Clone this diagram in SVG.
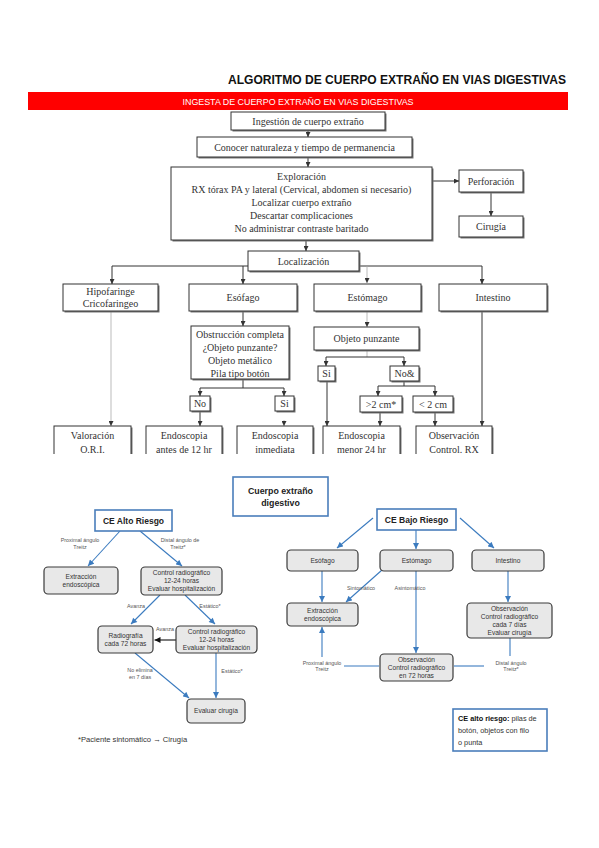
<svg xmlns="http://www.w3.org/2000/svg" width="599" height="848" viewBox="0 0 599 848">
<defs>
<style>
.bx{fill:#fff;stroke:#333;stroke-width:1}
.sh{fill:#777}
.st{font-family:"Liberation Serif",serif;font-size:10px;fill:#333;text-anchor:middle}
.ln{stroke:#333;stroke-width:1;fill:none}
.lg{stroke:#aaa;stroke-width:0.8;fill:none}
.gb{fill:#e8e8e8;stroke:#3a3a3a;stroke-width:1.2}
.wb{fill:#fff;stroke:#4a7ebb;stroke-width:1.6}
.bt{font-family:"Liberation Sans",sans-serif;font-size:6.6px;fill:#333;text-anchor:middle}
.lb{font-family:"Liberation Sans",sans-serif;font-size:5.4px;fill:#555;text-anchor:middle}
.bl{stroke:#3b7bbf;stroke-width:1.1;fill:none}
.hd{font-family:"Liberation Sans",sans-serif;font-weight:bold;fill:#222;text-anchor:middle}
.nt{font-family:"Liberation Sans",sans-serif;font-size:7.3px;fill:#333}
</style>
<marker id="ah" viewBox="0 0 10 10" refX="10" refY="5" markerWidth="5" markerHeight="5" markerUnits="userSpaceOnUse" orient="auto"><path d="M0,0L10,5L0,10z" fill="#333"/></marker>
<marker id="ab" viewBox="0 0 10 10" refX="10" refY="5" markerWidth="7" markerHeight="6" markerUnits="userSpaceOnUse" orient="auto"><path d="M0,0L10,5L0,10z" fill="#3b7bbf"/></marker>
<marker id="ak" viewBox="0 0 10 10" refX="10" refY="5" markerWidth="6" markerHeight="6" markerUnits="userSpaceOnUse" orient="auto"><path d="M0,0L10,5L0,10z" fill="#111"/></marker>
<clipPath id="cp"><rect x="0" y="0" width="599" height="454"/></clipPath>
</defs>
<rect width="599" height="848" fill="#fff"/>

<text id="title" x="566" y="84" text-anchor="end" font-family="Liberation Sans,sans-serif" font-weight="bold" font-size="12.5" fill="#111" textLength="338" lengthAdjust="spacingAndGlyphs">ALGORITMO DE CUERPO EXTRAÑO EN VIAS DIGESTIVAS</text>
<g id="banner">
<rect x="28" y="92" width="540" height="18" fill="#f00"/>
<text x="298" y="104.5" text-anchor="middle" font-family="Liberation Sans,sans-serif" font-size="9.5" fill="#fff" textLength="231" lengthAdjust="spacingAndGlyphs">INGESTA DE CUERPO EXTRAÑO EN VIAS DIGESTIVAS</text>
</g>

<g id="top" clip-path="url(#cp)">
<g id="connectors-top">
<path class="ln" d="M308,130V137" marker-end="url(#ah)"/>
<path class="ln" d="M308,157V167" marker-end="url(#ah)"/>
<path class="ln" d="M432,181H459" marker-end="url(#ah)"/>
<path class="ln" d="M491,192V216" marker-end="url(#ah)"/>
<path class="ln" d="M306,240V251" marker-end="url(#ah)"/>
<path class="ln" d="M248,266H112V284" marker-end="url(#ah)"/>
<path class="ln" d="M243,266V284" marker-end="url(#ah)"/>
<path class="ln" d="M359,266H482V284" marker-end="url(#ah)"/>
<path class="lg" d="M367,266V283" marker-end="url(#ah)"/>
<path class="ln" d="M243,311V326" marker-end="url(#ah)"/>
<path class="lg" d="M367,311V327" marker-end="url(#ah)"/>
<path class="ln" d="M243,379V388M200,388H284"/>
<path class="ln" d="M200,388V396" marker-end="url(#ah)"/>
<path class="ln" d="M284,388V396" marker-end="url(#ah)"/>
<path class="lg" d="M111,311V426" marker-end="url(#ah)"/>
<path class="ln" d="M200,411V426" marker-end="url(#ah)"/>
<path class="lg" d="M284,420V426" marker-end="url(#ah)"/>
<path class="lg" d="M367,350V357"/>
<path class="ln" d="M326,357H404"/>
<path class="ln" d="M326,357V366" marker-end="url(#ah)"/>
<path class="ln" d="M404,357V366" marker-end="url(#ah)"/>
<path class="ln" d="M327,381V426" marker-end="url(#ah)"/>
<path class="ln" d="M404,381V386M378,386H435"/>
<path class="ln" d="M378,386V396" marker-end="url(#ah)"/>
<path class="ln" d="M435,386V396" marker-end="url(#ah)"/>
<path class="ln" d="M380,412V426" marker-end="url(#ah)"/>
<path class="ln" d="M435,412V426" marker-end="url(#ah)"/>
<path class="ln" d="M482,311V426" marker-end="url(#ah)"/>
</g>

<g id="n-ingestion"><rect class="sh" x="232.5" y="113.5" width="154" height="18"/><rect class="bx" x="231" y="112" width="154" height="18"/><text class="st" x="308" y="124.5">Ingestión de cuerpo extraño</text></g>
<g id="n-conocer"><rect class="sh" x="198.5" y="138.5" width="215" height="20"/><rect class="bx" x="197" y="137" width="215" height="20"/><text class="st" x="304.5" y="150.5">Conocer naturaleza y tiempo de permanencia</text></g>
<g id="n-exploracion"><rect class="sh" x="172.5" y="168.5" width="261" height="73"/><rect class="bx" x="171" y="167" width="261" height="73"/>
<text class="st" x="301.5" y="180">Exploración</text>
<text class="st" x="301.5" y="193">RX tórax PA y lateral (Cervical, abdomen si necesario)</text>
<text class="st" x="301.5" y="206">Localizar cuerpo extraño</text>
<text class="st" x="301.5" y="219">Descartar complicaciones</text>
<text class="st" x="301.5" y="232">No administrar contraste baritado</text></g>
<g id="n-perforacion"><rect class="sh" x="460.5" y="171.5" width="64" height="22"/><rect class="bx" x="459" y="170" width="64" height="22"/><text class="st" x="491" y="184.5">Perforación</text></g>
<g id="n-cirugia"><rect class="sh" x="460.5" y="217.5" width="64" height="21"/><rect class="bx" x="459" y="216" width="64" height="21"/><text class="st" x="491" y="230">Cirugía</text></g>
<g id="n-localizacion"><rect class="sh" x="249.5" y="252.5" width="111" height="20"/><rect class="bx" x="248" y="251" width="111" height="20"/><text class="st" x="303.5" y="265">Localización</text></g>
<g id="n-hipofaringe"><rect class="sh" x="64.5" y="285.5" width="95" height="27"/><rect class="bx" x="63" y="284" width="95" height="27"/><text class="st" x="110.5" y="295">Hipofaringe</text><text class="st" x="110.5" y="307">Cricofaringeo</text></g>
<g id="n-esofago"><rect class="sh" x="190.5" y="285.5" width="108" height="27"/><rect class="bx" x="189" y="284" width="108" height="27"/><text class="st" x="243" y="301">Esófago</text></g>
<g id="n-estomago"><rect class="sh" x="315.5" y="285.5" width="107" height="27"/><rect class="bx" x="314" y="284" width="107" height="27"/><text class="st" x="367.5" y="301">Estómago</text></g>
<g id="n-intestino"><rect class="sh" x="440.5" y="285.5" width="108" height="27"/><rect class="bx" x="439" y="284" width="108" height="27"/><text class="st" x="493" y="301">Intestino</text></g>
<g id="n-obstruccion"><rect class="sh" x="192.5" y="327.5" width="98" height="53"/><rect class="bx" x="191" y="326" width="98" height="53"/>
<text class="st" x="240" y="338">Obstrucción completa</text>
<text class="st" x="240" y="351">¿Objeto punzante?</text>
<text class="st" x="240" y="364">Objeto metálico</text>
<text class="st" x="240" y="377">Pila tipo botón</text></g>
<g id="n-objeto"><rect class="sh" x="315.5" y="328.5" width="105" height="23"/><rect class="bx" x="314" y="327" width="105" height="23"/><text class="st" x="366.5" y="342">Objeto punzante</text></g>
<g id="n-no1"><rect class="sh" x="191.5" y="397.5" width="20" height="15"/><rect class="bx" x="190" y="396" width="20" height="15"/><text class="st" x="200" y="407">No</text></g>
<g id="n-si1"><rect class="sh" x="276.5" y="397.5" width="19" height="15"/><rect class="bx" x="275" y="396" width="19" height="15"/><text class="st" x="284.5" y="407">Si</text></g>
<g id="n-si2"><rect class="sh" x="319.5" y="367.5" width="17" height="15"/><rect class="bx" x="318" y="366" width="17" height="15"/><text class="st" x="326.5" y="377">Si</text></g>
<g id="n-no2"><rect class="sh" x="391.5" y="367.5" width="29" height="15"/><rect class="bx" x="390" y="366" width="29" height="15"/><text class="st" x="404.5" y="377">No&amp;</text></g>
<g id="n-mas2"><rect class="sh" x="361.5" y="397.5" width="42" height="16"/><rect class="bx" x="360" y="396" width="42" height="16"/><text class="st" x="381" y="408">&gt;2 cm*</text></g>
<g id="n-menos2"><rect class="sh" x="414.5" y="397.5" width="40" height="16"/><rect class="bx" x="413" y="396" width="40" height="16"/><text class="st" x="433" y="408">&lt; 2 cm</text></g>
<g id="n-valoracion"><rect class="sh" x="55.5" y="427.5" width="77" height="40"/><rect class="bx" x="54" y="426" width="77" height="40"/><text class="st" x="92.5" y="439">Valoración</text><text class="st" x="92.5" y="453">O.R.I.</text></g>
<g id="n-endo12"><rect class="sh" x="147.5" y="427.5" width="76" height="40"/><rect class="bx" x="146" y="426" width="76" height="40"/><text class="st" x="184" y="439">Endoscopia</text><text class="st" x="184" y="453">antes de 12 hr</text></g>
<g id="n-endoinm"><rect class="sh" x="238.5" y="427.5" width="76" height="40"/><rect class="bx" x="237" y="426" width="76" height="40"/><text class="st" x="275" y="439">Endoscopia</text><text class="st" x="275" y="453">inmediata</text></g>
<g id="n-endo24"><rect class="sh" x="324.5" y="427.5" width="77" height="40"/><rect class="bx" x="323" y="426" width="77" height="40"/><text class="st" x="361.5" y="439">Endoscopia</text><text class="st" x="361.5" y="453">menor 24 hr</text></g>
<g id="n-obsrx"><rect class="sh" x="417.5" y="427.5" width="76" height="40"/><rect class="bx" x="416" y="426" width="76" height="40"/><text class="st" x="454" y="439">Observación</text><text class="st" x="454" y="453">Control. RX</text></g>
</g>

<g id="connectors-bottom">
<path class="bl" d="M120,531L88,566" marker-end="url(#ab)"/>
<path class="bl" d="M140,531L182,566" marker-end="url(#ab)"/>
<path class="bl" d="M160,595L131,624" marker-end="url(#ab)"/>
<path class="bl" d="M185,595L215,624" marker-end="url(#ab)"/>
<path d="M176,640H154.5" stroke="#111" stroke-width="1.1" marker-end="url(#ak)"/>
<path class="bl" d="M135,653L189,698" marker-end="url(#ab)"/>
<path class="bl" d="M216,653V698" marker-end="url(#ab)"/>
<path class="bl" d="M373,518L337,548" marker-end="url(#ab)"/>
<path class="bl" d="M416,530V549" marker-end="url(#ab)"/>
<path class="bl" d="M460,518L494,548" marker-end="url(#ab)"/>
<path class="bl" d="M322,571V602" marker-end="url(#ab)"/>
<path class="bl" d="M382,570L346,602" marker-end="url(#ab)"/>
<path class="bl" d="M416,571V653" marker-end="url(#ab)"/>
<path class="bl" d="M508,571V602" marker-end="url(#ab)"/>
<path class="bl" d="M322,657V627" marker-end="url(#ab)"/>
<path class="bl" d="M344,666H379"/>
<path class="bl" d="M454,666H484"/>
<path class="bl" d="M510,638V656"/>
<text class="lb" x="80" y="542">Proximal ángulo</text><text class="lb" x="80" y="549">Treitz</text>
<text class="lb" x="180" y="542">Distal ángulo de</text><text class="lb" x="178" y="549">Treitz*</text>
<text class="lb" x="136" y="608">Avanza</text>
<text class="lb" x="210" y="608">Estático*</text>
<text class="lb" x="165" y="631">Avanza</text>
<text class="lb" x="140" y="672">No elimina</text><text class="lb" x="140" y="679">en 7 días</text>
<text class="lb" x="232" y="673">Estático*</text>
<text class="lb" x="361" y="590">Sintomático</text>
<text class="lb" x="410" y="590">Asintomático</text>
<text class="lb" x="322" y="665">Proximal ángulo</text><text class="lb" x="322" y="671">Treitz</text>
<text class="lb" x="511" y="665">Distal ángulo</text><text class="lb" x="511" y="671">Treitz*</text>
</g>

<g id="n-cuerpo"><rect class="wb" x="233" y="477" width="95" height="39"/><text class="hd" x="280.5" y="494" font-size="8.8">Cuerpo extraño</text><text class="hd" x="280.5" y="506" font-size="8.8">digestivo</text></g>
<g id="n-alto"><rect class="wb" x="95" y="510" width="77" height="21" stroke-width="2"/><text class="hd" x="133.5" y="524" font-size="8.5">CE Alto Riesgo</text></g>
<g id="n-extr1"><rect class="gb" x="44" y="567" width="74" height="27" rx="4"/><text class="bt" x="81" y="579">Extracción</text><text class="bt" x="81" y="587">endoscópica</text></g>
<g id="n-ctrl1"><rect class="gb" x="141" y="567" width="81" height="28" rx="4"/><text class="bt" x="181.5" y="575">Control radiográfico</text><text class="bt" x="181.5" y="583">12-24 horas</text><text class="bt" x="181.5" y="591">Evaluar hospitalización</text></g>
<g id="n-radio"><rect class="gb" x="98" y="626" width="55" height="27" rx="4"/><text class="bt" x="125.5" y="638">Radiografía</text><text class="bt" x="125.5" y="646">cada 72 horas</text></g>
<g id="n-ctrl2"><rect class="gb" x="176" y="626" width="81" height="27" rx="4"/><text class="bt" x="216.5" y="634">Control radiográfico</text><text class="bt" x="216.5" y="642">12-24 horas</text><text class="bt" x="216.5" y="650">Evaluar hospitalización</text></g>
<g id="n-evaluar"><rect class="gb" x="187" y="699" width="58" height="24" rx="4"/><text class="bt" x="216" y="713">Evaluar cirugía</text></g>
<text id="nota1" x="78" y="742" font-family="Liberation Sans,sans-serif" font-size="7.6" fill="#333">*Paciente sintomático → Cirugía</text>

<g id="n-bajo"><rect class="wb" x="377" y="509" width="79" height="21" stroke-width="2"/><text class="hd" x="416.5" y="523" font-size="8.5">CE Bajo Riesgo</text></g>
<g id="n-esof2"><rect class="gb" x="287" y="550" width="71" height="21" rx="4"/><text class="bt" x="322.5" y="563">Esófago</text></g>
<g id="n-estom2"><rect class="gb" x="380" y="550" width="73" height="21" rx="4"/><text class="bt" x="416.5" y="563">Estómago</text></g>
<g id="n-intes2"><rect class="gb" x="472" y="550" width="72" height="21" rx="4"/><text class="bt" x="508" y="563">Intestino</text></g>
<g id="n-extr2"><rect class="gb" x="287" y="603" width="71" height="23" rx="4"/><text class="bt" x="322.5" y="613">Extracción</text><text class="bt" x="322.5" y="621">endoscópica</text></g>
<g id="n-obs7"><rect class="gb" x="467" y="603" width="85" height="35" rx="4" stroke-width="1.6"/><text class="bt" x="509.5" y="611">Observación</text><text class="bt" x="509.5" y="619">Control radiográfico</text><text class="bt" x="509.5" y="627">cada 7 días</text><text class="bt" x="509.5" y="635">Evaluar cirugía</text></g>
<g id="n-obs72"><rect class="gb" x="380" y="654" width="73" height="27" rx="4"/><text class="bt" x="416.5" y="662">Observación</text><text class="bt" x="416.5" y="670">Control radiográfico</text><text class="bt" x="416.5" y="678">en 72 horas</text></g>
<g id="n-nota2"><rect class="wb" x="453" y="709" width="94" height="42" stroke-width="1.2"/>
<text class="nt" x="458" y="721"><tspan font-weight="bold" fill="#111">CE alto riesgo:</tspan> pilas de</text>
<text class="nt" x="458" y="733">botón, objetos con filo</text>
<text class="nt" x="458" y="745">o punta</text></g>
</svg>
